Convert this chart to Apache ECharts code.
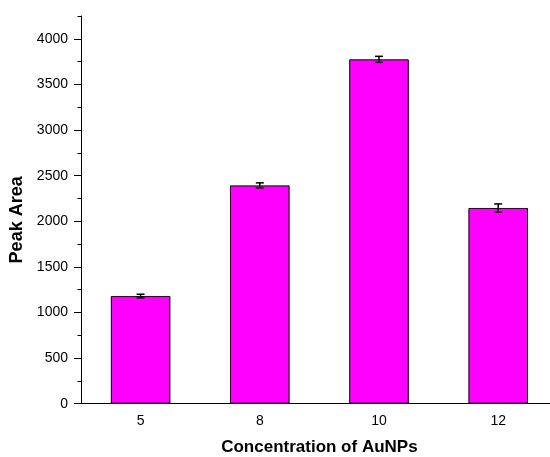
<!DOCTYPE html>
<html>
<head>
<meta charset="utf-8">
<script src="https://cdn.jsdelivr.net/npm/echarts@6/dist/echarts.min.js"></script>
<style>html,body{margin:0;padding:0;background:#fff;}#c{width:550px;height:457px;}</style>
</head>
<body>
<div id="c"></div>
<script>
var categories = ['5', '8', '10', '12'];
var peakArea = [1180, 2393, 3775, 2145];
var errors = [20, 28, 33, 45];
var majorTicks = [0, 500, 1000, 1500, 2000, 2500, 3000, 3500, 4000];
var minorTicks = [250, 750, 1250, 1750, 2250, 2750, 3250, 3750, 4250];

var FONT = '"Liberation Sans", Arial, sans-serif';
var chart = echarts.init(document.getElementById('c'), null, {renderer: 'canvas'});

var errData = peakArea.map(function (v, i) { return [i, v - errors[i], v + errors[i]]; });

chart.setOption({
  animation: false,
  backgroundColor: '#fff',
  grid: {left: 81, top: 16, width: 476.8, height: 387.7, containLabel: false, outerBoundsMode: 'none'},
  xAxis: [{
    type: 'category',
    data: categories,
    boundaryGap: true,
    name: 'Concentration of AuNPs',
    nameLocation: 'middle',
    nameGap: 35,
    nameTextStyle: {fontFamily: FONT, fontSize: 17, fontWeight: 'bold', color: '#000'},
    axisLine: {lineStyle: {color: '#000', width: 1}},
    axisTick: {alignWithLabel: true, length: 6, lineStyle: {color: '#000'}},
    axisLabel: {fontFamily: FONT, fontSize: 14, color: '#000', margin: 10},
    splitLine: {show: false}
  }, {
    type: 'category',
    data: categories,
    position: 'bottom',
    boundaryGap: true,
    axisLine: {show: false},
    axisTick: {length: 3.5, lineStyle: {color: '#000'}},
    axisLabel: {show: false},
    splitLine: {show: false}
  }],
  yAxis: [{
    type: 'value',
    position: 'left',
    min: 0,
    max: 4250,
    interval: 500,
    name: 'Peak Area',
    nameLocation: 'middle',
    nameGap: 53,
    nameRotate: 90,
    nameTextStyle: {fontFamily: FONT, fontSize: 18, fontWeight: 'bold', color: '#000', padding: [0, 20, 0, 0]},
    axisLine: {show: true, lineStyle: {color: '#000', width: 1}},
    axisTick: {show: true, length: 7, customValues: majorTicks, lineStyle: {color: '#000'}},
    axisLabel: {fontFamily: FONT, fontSize: 14, color: '#000', margin: 13, customValues: majorTicks,
      formatter: function (v) { return String(v); }},
    splitLine: {show: false}
  }, {
    type: 'value',
    position: 'left',
    min: 0,
    max: 4250,
    interval: 250,
    axisLine: {show: false},
    axisTick: {show: true, length: 3.5, customValues: minorTicks, lineStyle: {color: '#000'}},
    axisLabel: {show: false},
    splitLine: {show: false}
  }],
  series: [{
    type: 'bar',
    data: peakArea,
    barWidth: '50%',
    itemStyle: {color: '#FF00FF', borderColor: '#000', borderWidth: 1}
  }, {
    type: 'custom',
    data: errData,
    z: 10,
    renderItem: function (params, api) {
      var x = api.value(0);
      var lo = api.coord([x, api.value(1)]);
      var hi = api.coord([x, api.value(2)]);
      var hw = 4;
      var st = {stroke: '#000', lineWidth: 1.5};
      return {
        type: 'group',
        children: [
          {type: 'line', shape: {x1: lo[0], y1: lo[1], x2: hi[0], y2: hi[1]}, style: st},
          {type: 'line', shape: {x1: lo[0] - hw, y1: lo[1], x2: lo[0] + hw, y2: lo[1]}, style: st},
          {type: 'line', shape: {x1: hi[0] - hw, y1: hi[1], x2: hi[0] + hw, y2: hi[1]}, style: st}
        ]
      };
    }
  }]
});
</script>
</body>
</html>
